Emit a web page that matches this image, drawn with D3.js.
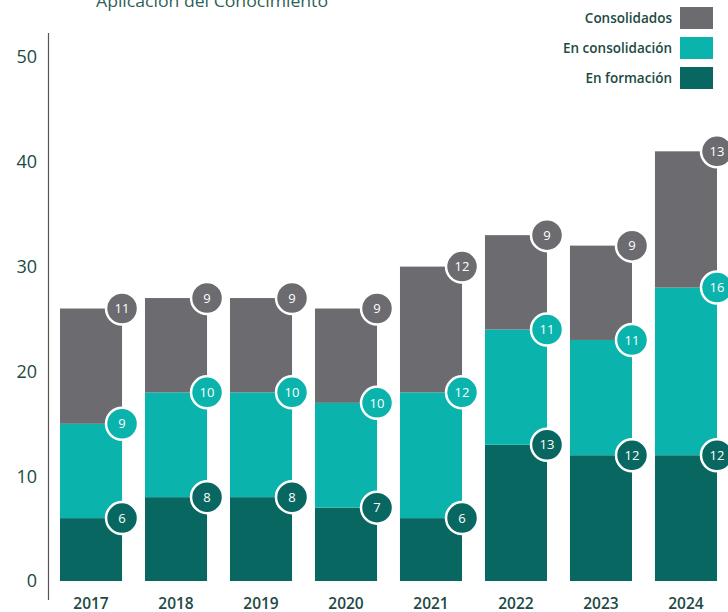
<!DOCTYPE html>
<html><head><meta charset="utf-8">
<script src="https://cdn.jsdelivr.net/npm/d3@7"></script>
<style>
html,body{margin:0;padding:0;background:#fff;}
svg{display:block;font-family:"Open Sans","Noto Sans",sans-serif;}
</style></head>
<body>
<svg id="c" width="728" height="612"></svg>
<script>
const years = ["2017","2018","2019","2020","2021","2022","2023","2024"];
const enFormacion = [6, 8, 8, 7, 6, 13, 12, 12];
const enConsolidacion = [9, 10, 10, 10, 12, 11, 11, 16];
const consolidados = [11, 9, 9, 9, 12, 9, 9, 13];
const yTicks = [0, 10, 20, 30, 40, 50];
const seriesNames = ["En formación", "En consolidación", "Consolidados"];
const colors = ["#086760", "#0ab3ab", "#6b6b70"];
const legendOrder = ["Consolidados", "En consolidación", "En formación"];
const title = "Aplicación del Conocimiento";

const svg = d3.select("#c");
const textColor = "#1c4a44";

const rows = years.map((y, i) => ({year: y, "En formación": enFormacion[i], "En consolidación": enConsolidacion[i], "Consolidados": consolidados[i]}));
const stack = d3.stack().keys(seriesNames)(rows);

const x = d3.scaleBand().domain(years).range([43, 734]).paddingInner(0.27).paddingOuter(0.2);
const y = d3.scaleLinear().domain([0, 50]).range([581, 57]);

// title
svg.append("text").attr("x", 96).attr("y", 7).attr("font-size", 16.5).attr("fill", "#2f5f58")
  .attr("textLength", 232).attr("lengthAdjust", "spacingAndGlyphs").text(title);

// y axis line
svg.append("line").attr("x1", 48.5).attr("x2", 48.5).attr("y1", 33).attr("y2", 600)
  .attr("stroke", "#555").attr("stroke-width", 1.2);

// y tick labels
svg.append("g").selectAll("text").data(yTicks).join("text")
  .attr("x", 37).attr("y", d => y(d)).attr("dy", "0.35em").attr("text-anchor", "end")
  .attr("font-size", 18).attr("font-weight", 500).attr("fill", textColor).text(d => d);

// bars
const g = svg.append("g");
stack.forEach((s, si) => {
  g.append("g").attr("fill", colors[si]).selectAll("rect").data(s).join("rect")
    .attr("x", d => x(d.data.year)).attr("width", x.bandwidth())
    .attr("y", d => y(d[1])).attr("height", d => y(d[0]) - y(d[1]));
});

// value circles
stack.forEach((s, si) => {
  const cg = g.append("g").selectAll("g").data(s).join("g")
    .attr("transform", d => `translate(${x(d.data.year) + x.bandwidth()},${y(d[1])})`);
  cg.append("circle").attr("r", 16).attr("fill", colors[si]).attr("stroke", "#fff").attr("stroke-width", 2.5);
  cg.append("text").attr("text-anchor", "middle").attr("dy", "0.36em").attr("font-size", 13)
    .attr("font-weight", 500).attr("fill", "#fff").text(d => d[1] - d[0]);
});

// x labels
svg.append("g").selectAll("text").data(years).join("text")
  .attr("x", d => x(d) + x.bandwidth() / 2).attr("y", 609).attr("text-anchor", "middle")
  .attr("font-size", 15.5).attr("font-weight", 600).attr("fill", textColor).text(d => d);

// legend
const lg = svg.append("g").selectAll("g").data(legendOrder).join("g")
  .attr("transform", (d, i) => `translate(680,${7 + i * 30})`);
lg.append("rect").attr("width", 33).attr("height", 22).attr("fill", d => colors[seriesNames.indexOf(d)]);
lg.append("text").attr("x", -8).attr("y", 11).attr("dy", "0.35em").attr("text-anchor", "end")
  .attr("font-size", 13.5).attr("font-weight", 600).attr("fill", textColor).text(d => d);
</script>
</body></html>
